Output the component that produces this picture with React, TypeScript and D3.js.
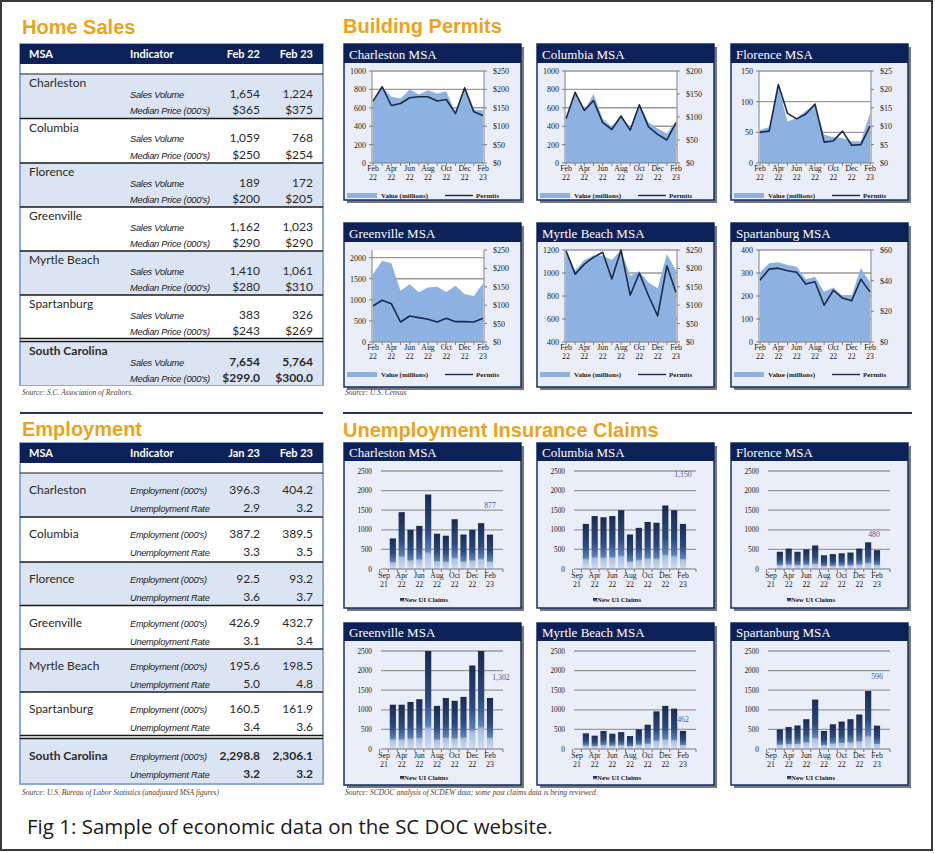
import React from 'react';
import * as d3 from 'd3';

// ---------------- DATA ----------------
const msaNames = ['Charleston', 'Columbia', 'Florence', 'Greenville', 'Myrtle Beach', 'Spartanburg', 'South Carolina'];
const salesVolFeb22 = [1654, 1059, 189, 1162, 1410, 383, 7654];
const salesVolFeb23 = [1224, 768, 172, 1023, 1061, 326, 5764];
const medianFeb22 = [365, 250, 200, 290, 280, 243, 299.0];
const medianFeb23 = [375, 254, 205, 290, 310, 269, 300.0];

const empJan23 = [396.3, 387.2, 92.5, 426.9, 195.6, 160.5, 2298.8];
const empFeb23 = [404.2, 389.5, 93.2, 432.7, 198.5, 161.9, 2306.1];
const rateJan23 = [2.9, 3.3, 3.6, 3.1, 5.0, 3.4, 3.2];
const rateFeb23 = [3.2, 3.5, 3.7, 3.4, 4.8, 3.6, 3.2];

const permitMonths = ['Feb 22', 'Mar 22', 'Apr 22', 'May 22', 'Jun 22', 'Jul 22', 'Aug 22', 'Sep 22', 'Oct 22', 'Nov 22', 'Dec 22', 'Jan 23', 'Feb 23'];
const permitTickMonths = ['Feb 22', 'Apr 22', 'Jun 22', 'Aug 22', 'Oct 22', 'Dec 22', 'Feb 23'];

const charlestonPermits = [673, 829, 625, 647, 709, 720, 720, 673, 690, 538, 818, 556, 516];
const charlestonValue = [168, 208, 180, 175, 200, 186, 198, 189, 195, 136, 205, 145, 143];
const columbiaPermits = [482, 768, 571, 679, 439, 364, 511, 357, 632, 393, 311, 250, 439];
const columbiaValue = [96, 154, 114, 150, 96, 79, 104, 75, 129, 88, 75, 64, 91];
const florencePermits = [50, 52, 128, 81, 72, 80, 96, 34, 36, 52, 29, 30, 60];
const florenceValue = [9.0, 9.7, 21.0, 11.3, 12.2, 14.2, 15.8, 7.7, 7.0, 6.8, 5.9, 5.9, 13.5];
const greenvillePermits = [854, 988, 909, 474, 617, 577, 538, 474, 561, 482, 482, 474, 561];
const greenvilleValue = [185, 221, 214, 139, 157, 135, 148, 150, 136, 153, 130, 125, 159];
const myrtlePermits = [1194, 990, 1077, 1136, 1180, 947, 1200, 807, 999, 802, 627, 1063, 830];
const myrtleValue = [248, 194, 223, 235, 235, 223, 250, 180, 192, 162, 146, 239, 194];
const spartanburgPermits = [269, 317, 321, 310, 303, 252, 262, 160, 225, 191, 179, 273, 218];
const spartanburgValue = [45.4, 51.3, 52.0, 50.2, 49.0, 41.0, 42.5, 32.7, 35.6, 30.1, 30.1, 48.2, 38.8];

const uiMonths = ['Sep 21', 'Mar 22', 'Apr 22', 'May 22', 'Jun 22', 'Jul 22', 'Aug 22', 'Sep 22', 'Oct 22', 'Nov 22', 'Dec 22', 'Jan 23', 'Feb 23'];
const uiTickMonths = ['Sep 21', 'Apr 22', 'Jun 22', 'Aug 22', 'Oct 22', 'Dec 22', 'Feb 23'];
const uiTicks = [0, 500, 1000, 1500, 2000, 2500];

const charlestonClaims = [null, 780, 1450, 1000, 1100, 1900, 900, 850, 1270, 880, 1000, 1170, 877];
const columbiaClaims = [null, 1150, 1350, 1320, 1350, 1500, 880, 1050, 1200, 1180, 1620, 1500, 1150];
const florenceClaims = [null, 440, 520, 440, 500, 600, 350, 380, 400, 420, 520, 680, 480];
const greenvilleClaims = [null, 1130, 1130, 1200, 1270, 2500, 1100, 1300, 1230, 1330, 2130, 2500, 1302];
const myrtleClaims = [null, 400, 340, 460, 390, 430, 330, 500, 620, 960, 1100, 1030, 462];
const spartanburgClaims = [null, 500, 560, 600, 760, 1260, 460, 630, 700, 760, 880, 1480, 596];
const claimLabelLevels = [1560, 2350, 820, 1750, 685, 1780];
const claimLabelShift = [0, 0, -3, 11, 0, 0];

// ---------------- STYLE ----------------
const NAVY = '#0d2159';
const ORANGE = '#EBA31E';
const ROWBLUE = '#dbe4f3';
const PANELBG = '#eaeef8';
const AREA = '#8db2e2';
const LINE = '#1b2a4a';
const GRID = '#9a9a9a';
const SANS = 'Lato, "Liberation Sans", sans-serif';
const SERIF = '"Liberation Serif", "DejaVu Serif", serif';
const IND = '"Liberation Sans", sans-serif';

const fmtInt = d3.format(',');

// ---------------- TABLES ----------------
function SalesTable() {
  const x0 = 20, x1 = 323;
  const rowTops = [74, 118.5, 163, 207, 251, 295, 342];
  const rowH = [44.5, 44.5, 44, 44, 44, 43, 43];
  return (
    <g>
      <rect x={x0} y={44} width={x1 - x0} height={341} fill="#fff" stroke="#8ea9d8" strokeWidth={2} />
      <rect x={x0} y={44} width={x1 - x0} height={20} fill={NAVY} />
      <g fontFamily={SANS} fontWeight={700} fontSize={11} fill="#fff">
        <text x={29} y={58}>MSA</text>
        <text x={130} y={58}>Indicator</text>
        <text x={260} y={58} textAnchor="end">Feb 22</text>
        <text x={313} y={58} textAnchor="end">Feb 23</text>
      </g>
      {msaNames.map((n, i) => {
        const t = rowTops[i];
        const last = i === msaNames.length - 1;
        const fw = last ? 700 : 400;
        const med = (v: number) => (last ? '$' + d3.format('.1f')(v) : '$' + v);
        return (
          <g key={n}>
            <rect x={x0 + 1} y={t} width={x1 - x0 - 2} height={rowH[i]} fill={i % 2 === 0 ? ROWBLUE : '#fff'} />
            <text x={29} y={t + 13} fontFamily={SANS} fontSize={12} fontWeight={fw} fill="#2a2a2a">{n}</text>
            <text x={130} y={t + 23.5} fontFamily={IND} fontStyle="italic" fontSize={9.3} fill="#222" letterSpacing={-0.25}>Sales Volume</text>
            <text x={130} y={t + 40} fontFamily={IND} fontStyle="italic" fontSize={9.3} fill="#222" letterSpacing={-0.25}>Median Price (000's)</text>
            <g fontFamily={SANS} fontSize={12} fontWeight={fw} fill="#2a2a2a" textAnchor="end">
              <text x={260} y={t + 23.5}>{fmtInt(salesVolFeb22[i])}</text>
              <text x={313} y={t + 23.5}>{fmtInt(salesVolFeb23[i])}</text>
              <text x={260} y={t + 40}>{med(medianFeb22[i])}</text>
              <text x={313} y={t + 40}>{med(medianFeb23[i])}</text>
            </g>
          </g>
        );
      })}
      {[118.5, 163, 207, 251, 295].map((yy) => (
        <line key={yy} x1={x0} x2={x1} y1={yy} y2={yy} stroke="#1a1a1a" strokeWidth={1.4} />
      ))}
      <line x1={x0} x2={x1} y1={74} y2={74} stroke="#1a1a1a" strokeWidth={1.2} />
      <line x1={x0} x2={x1} y1={338.5} y2={338.5} stroke="#1a1a1a" strokeWidth={1.4} />
      <line x1={x0} x2={x1} y1={341.5} y2={341.5} stroke="#1a1a1a" strokeWidth={1.4} />
      <text x={22} y={395} fontFamily={SERIF} fontStyle="italic" fontSize={7.5} fill="#444">Source: S.C. Association of Realtors.</text>
    </g>
  );
}

function EmploymentTable() {
  const x0 = 20, x1 = 323;
  const rowTops = [473, 517, 562, 605.5, 649, 692, 739];
  const rowH = [44, 45, 43.5, 43.5, 43, 43, 44];
  return (
    <g>
      <rect x={x0} y={443} width={x1 - x0} height={341} fill="#fff" stroke="#8ea9d8" strokeWidth={2} />
      <rect x={x0} y={443} width={x1 - x0} height={20} fill={NAVY} />
      <g fontFamily={SANS} fontWeight={700} fontSize={11} fill="#fff">
        <text x={29} y={457}>MSA</text>
        <text x={130} y={457}>Indicator</text>
        <text x={260} y={457} textAnchor="end">Jan 23</text>
        <text x={313} y={457} textAnchor="end">Feb 23</text>
      </g>
      {msaNames.map((n, i) => {
        const t = rowTops[i];
        const last = i === msaNames.length - 1;
        const fw = last ? 700 : 400;
        const f1 = d3.format(',.1f');
        return (
          <g key={n}>
            <rect x={x0 + 1} y={t} width={x1 - x0 - 2} height={rowH[i]} fill={i % 2 === 0 ? ROWBLUE : '#fff'} />
            <text x={29} y={t + 21} fontFamily={SANS} fontSize={12} fontWeight={fw} fill="#2a2a2a">{n}</text>
            <text x={130} y={t + 21} fontFamily={IND} fontStyle="italic" fontSize={9.2} fill="#222" letterSpacing={-0.25}>Employment (000's)</text>
            <text x={130} y={t + 39} fontFamily={IND} fontStyle="italic" fontSize={9.2} fill="#222" letterSpacing={-0.25}>Unemployment Rate</text>
            <g fontFamily={SANS} fontSize={12} fontWeight={fw} fill="#2a2a2a" textAnchor="end">
              <text x={260} y={t + 21}>{f1(empJan23[i])}</text>
              <text x={313} y={t + 21}>{f1(empFeb23[i])}</text>
              <text x={260} y={t + 39}>{d3.format('.1f')(rateJan23[i])}</text>
              <text x={313} y={t + 39}>{d3.format('.1f')(rateFeb23[i])}</text>
            </g>
          </g>
        );
      })}
      {[517, 562, 605.5, 649, 692].map((yy) => (
        <line key={yy} x1={x0} x2={x1} y1={yy} y2={yy} stroke="#1a1a1a" strokeWidth={1.4} />
      ))}
      <line x1={x0} x2={x1} y1={473} y2={473} stroke="#1a1a1a" strokeWidth={1.2} />
      <line x1={x0} x2={x1} y1={735.5} y2={735.5} stroke="#1a1a1a" strokeWidth={1.4} />
      <line x1={x0} x2={x1} y1={738.5} y2={738.5} stroke="#1a1a1a" strokeWidth={1.4} />
      <text x={22} y={795} fontFamily={SERIF} fontStyle="italic" fontSize={7.5} fill="#444">Source: U.S. Bureau of Labor Statistics (unadjusted MSA figures)</text>
    </g>
  );
}

// ---------------- PANELS ----------------
function Panel({ x, y, w, h, title, titleH, children }: any) {
  return (
    <g transform={`translate(${x},${y})`}>
      <rect x={3} y={3} width={w} height={h} fill="#4a4a4a" opacity={0.75} />
      <rect x={0} y={0} width={w} height={h} fill={PANELBG} stroke="#12306a" strokeWidth={1.5} />
      <rect x={0} y={0} width={w} height={titleH} fill={NAVY} />
      <text x={5} y={titleH - 4} fontFamily={SERIF} fontSize={13} fill="#fff">{title}</text>
      {children}
    </g>
  );
}

type PermitCfg = {
  title: string;
  permits: number[];
  value: number[];
  left: [number, number];
  leftTicks: number[];
  right: [number, number];
  rightTicks: number[];
};

const permitCharts: PermitCfg[] = [
  { title: 'Charleston MSA', permits: charlestonPermits, value: charlestonValue, left: [0, 1000], leftTicks: [0, 200, 400, 600, 800, 1000], right: [0, 250], rightTicks: [0, 50, 100, 150, 200, 250] },
  { title: 'Columbia MSA', permits: columbiaPermits, value: columbiaValue, left: [0, 1000], leftTicks: [0, 200, 400, 600, 800, 1000], right: [0, 200], rightTicks: [0, 50, 100, 150, 200] },
  { title: 'Florence MSA', permits: florencePermits, value: florenceValue, left: [0, 150], leftTicks: [0, 50, 100, 150], right: [0, 25], rightTicks: [0, 5, 10, 15, 20, 25] },
  { title: 'Greenville MSA', permits: greenvillePermits, value: greenvilleValue, left: [0, 2180], leftTicks: [0, 500, 1000, 1500, 2000], right: [0, 250], rightTicks: [0, 50, 100, 150, 200, 250] },
  { title: 'Myrtle Beach MSA', permits: myrtlePermits, value: myrtleValue, left: [400, 1200], leftTicks: [400, 600, 800, 1000, 1200], right: [0, 250], rightTicks: [0, 50, 100, 150, 200, 250] },
  { title: 'Spartanburg MSA', permits: spartanburgPermits, value: spartanburgValue, left: [0, 400], leftTicks: [0, 100, 200, 300, 400], right: [0, 60], rightTicks: [0, 20, 40, 60] },
];

function PermitChart({ cfg, x, y, h }: { cfg: PermitCfg; x: number; y: number; h: number }) {
  const w = 177;
  const pl = 28, pr = 140, pt = 27, pb = 119;
  const xs = d3.scalePoint<string>().domain(permitMonths).range([pl + 1, pr - 1]);
  const yl = d3.scaleLinear().domain(cfg.left).range([pb, pt]);
  const yr = d3.scaleLinear().domain(cfg.right).range([pb, pt]);
  const area = d3.area<number>().x((_, i) => xs(permitMonths[i]) as number).y0(pb).y1((d) => yr(Math.min(d, cfg.right[1])));
  const line = d3.line<number>().x((_, i) => xs(permitMonths[i]) as number).y((d) => yl(Math.min(d, cfg.left[1])));
  const rfmt = (v: number) => '$' + v;
  return (
    <Panel x={x} y={y} w={w} h={h} title={cfg.title} titleH={19}>
      <rect x={pl} y={pt} width={pr - pl} height={pb - pt} fill="#fff" />
      {cfg.leftTicks.filter((t) => t > cfg.left[0]).map((t) => (
        <line key={t} x1={pl} x2={pr} y1={yl(t)} y2={yl(t)} stroke={GRID} strokeWidth={1.4} />
      ))}
      <path d={area(cfg.value) || ''} fill={AREA} />
      <path d={line(cfg.permits) || ''} fill="none" stroke={LINE} strokeWidth={1.6} strokeLinejoin="round" />
      <line x1={pl} x2={pl} y1={pt} y2={pb} stroke="#808080" strokeWidth={1} />
      <line x1={pr} x2={pr} y1={pt} y2={pb} stroke="#808080" strokeWidth={1} />
      <line x1={pl} x2={pr} y1={pb} y2={pb} stroke="#808080" strokeWidth={1} />
      {cfg.leftTicks.map((t) => (
        <g key={t}>
          <line x1={pl - 3} x2={pl} y1={yl(t)} y2={yl(t)} stroke="#808080" />
          <text x={pl - 6} y={yl(t) + 3} textAnchor="end" fontFamily={SERIF} fontSize={8} fill="#222">{t}</text>
        </g>
      ))}
      {cfg.rightTicks.map((t) => (
        <g key={t}>
          <line x1={pr} x2={pr + 3} y1={yr(t)} y2={yr(t)} stroke="#808080" />
          <text x={pr + 9} y={yr(t) + 3} fontFamily={SERIF} fontSize={8} fill="#222">{rfmt(t)}</text>
        </g>
      ))}
      {permitMonths.map((m) => (
        <line key={m} x1={xs(m)} x2={xs(m)} y1={pb} y2={pb + 3} stroke="#808080" />
      ))}
      {permitTickMonths.map((m) => {
        const [mo, yrs] = m.split(' ');
        return (
          <g key={m} fontFamily={SERIF} fontSize={7.8} fill="#222" textAnchor="middle">
            <text x={xs(m)} y={pb + 8}>{mo}</text>
            <text x={xs(m)} y={pb + 17}>{yrs}</text>
          </g>
        );
      })}
      <rect x={3} y={149} width={30} height={5} fill={AREA} />
      <text x={37} y={154} fontFamily={SERIF} fontWeight={700} fontSize={7} fill="#222">Value (millions)</text>
      <line x1={101} x2={129} y1={151.5} y2={151.5} stroke={LINE} strokeWidth={1.4} />
      <text x={132} y={154} fontFamily={SERIF} fontWeight={700} fontSize={7} fill="#222">Permits</text>
    </Panel>
  );
}

type ClaimCfg = { title: string; claims: (number | null)[] };
const claimCharts: ClaimCfg[] = [
  { title: 'Charleston MSA', claims: charlestonClaims },
  { title: 'Columbia MSA', claims: columbiaClaims },
  { title: 'Florence MSA', claims: florenceClaims },
  { title: 'Greenville MSA', claims: greenvilleClaims },
  { title: 'Myrtle Beach MSA', claims: myrtleClaims },
  { title: 'Spartanburg MSA', claims: spartanburgClaims },
];

function ClaimChart({ cfg, labelLevel, labelShift, x, y, h, legendY }: { cfg: ClaimCfg; labelLevel: number; labelShift: number; x: number; y: number; h: number; legendY: number }) {
  const w = 177;
  const gl = 37, gr = 159, pt = 28, pb = 126;
  const xs = d3.scaleBand<string>().domain(uiMonths).range([35.6, 150.4]).paddingInner(0.3).paddingOuter(0.15);
  const ys = d3.scaleLinear().domain([0, 2500]).range([pb, pt]).clamp(true);
  const last = cfg.claims[cfg.claims.length - 1] as number;
  const lastX = (xs(uiMonths[uiMonths.length - 1]) as number) + xs.bandwidth() / 2;
  return (
    <Panel x={x} y={y} w={w} h={h} title={cfg.title} titleH={18}>
      {uiTicks.map((t) => (
        <g key={t}>
          {t > 0 && <line x1={gl} x2={gr} y1={ys(t)} y2={ys(t)} stroke={GRID} strokeWidth={1.3} />}
          <text x={28} y={ys(t) + 2.5} textAnchor="end" fontFamily={SERIF} fontSize={7.3} fill="#222">{t}</text>
        </g>
      ))}
      {cfg.claims.map((v, i) =>
        v == null ? null : (
          <rect key={i} x={xs(uiMonths[i])} y={ys(v)} width={xs.bandwidth()} height={pb - ys(v)} fill="url(#barGrad)" />
        )
      )}
      <line x1={gl} x2={gr} y1={pb} y2={pb} stroke="#777" strokeWidth={1} />
      {uiMonths.map((m) => (
        <line key={m} x1={(xs(m) as number) - xs.step() * 0.15} x2={(xs(m) as number) - xs.step() * 0.15} y1={pb} y2={pb + 3} stroke="#777" />
      ))}
      <line x1={gr} x2={gr} y1={pb} y2={pb + 3} stroke="#777" />
      {uiTickMonths.map((m) => {
        const [mo, yrs] = m.split(' ');
        const cx = (xs(m) as number) + xs.bandwidth() / 2;
        return (
          <g key={m} fontFamily={SERIF} fontSize={7.8} fill="#222" textAnchor="middle">
            <text x={cx} y={pb + 9}>{mo}</text>
            <text x={cx} y={pb + 18}>{yrs}</text>
          </g>
        );
      })}
      <text x={lastX + labelShift} y={ys(labelLevel)} textAnchor="middle" fontFamily={SERIF} fontSize={7.8} fill="#3d63a6">{fmtInt(last)}</text>
      <rect x={56} y={legendY - 4} width={4} height={4} fill="url(#barGrad)" />
      <text x={60} y={legendY} fontFamily={SERIF} fontWeight={700} fontSize={6.8} fill="#222">New UI Claims</text>
    </Panel>
  );
}

// ---------------- APP ----------------
export default function App() {
  const colX = [344, 537, 731];
  return (
    <div style={{ position: 'absolute', left: 0, top: 0 }}>
      <svg width={935} height={853} viewBox="0 0 935 853" style={{ display: 'block' }}>
        <defs>
          <linearGradient id="barGrad" x1="0" y1="0" x2="0" y2="1">
            <stop offset="0" stopColor="#1a2b52" />
            <stop offset="0.5" stopColor="#2c4a7e" />
            <stop offset="0.76" stopColor="#5c80b8" />
            <stop offset="0.8" stopColor="#a7bde0" />
            <stop offset="1" stopColor="#d2def2" />
          </linearGradient>
        </defs>
        <rect x={1} y={1} width={931} height={849} fill="#fff" stroke="#3a3a3a" strokeWidth={2} />

        <text x={22} y={34} fontFamily='"Liberation Sans", Arial, sans-serif' fontWeight={700} fontSize={20} fill={ORANGE}>Home Sales</text>
        <text x={343} y={33} fontFamily='"Liberation Sans", Arial, sans-serif' fontWeight={700} fontSize={20} fill={ORANGE}>Building Permits</text>
        <text x={22} y={436} fontFamily='"Liberation Sans", Arial, sans-serif' fontWeight={700} fontSize={20} fill={ORANGE}>Employment</text>
        <text x={343} y={437} fontFamily='"Liberation Sans", Arial, sans-serif' fontWeight={700} fontSize={20} fill={ORANGE}>Unemployment Insurance Claims</text>

        <line x1={20} x2={323} y1={413} y2={413} stroke="#1f3561" strokeWidth={2} />
        <line x1={343} x2={912} y1={413} y2={413} stroke="#1f3561" strokeWidth={2} />

        <SalesTable />
        <EmploymentTable />

        {permitCharts.map((c, i) => (
          <PermitChart key={c.title} cfg={c} x={colX[i % 3]} y={i < 3 ? 44 : 223} h={i < 3 ? 156 : 164} />
        ))}
        <text x={345} y={395} fontFamily={SERIF} fontStyle="italic" fontSize={7.5} fill="#444">Source: U.S. Census</text>

        {claimCharts.map((c, i) => (
          <ClaimChart key={c.title} cfg={c} labelLevel={claimLabelLevels[i]} labelShift={claimLabelShift[i]} x={colX[i % 3]} y={i < 3 ? 443 : 623} h={i < 3 ? 165 : 162} legendY={i < 3 ? 159 : 157} />
        ))}
        <text x={345} y={795} fontFamily={SERIF} fontStyle="italic" fontSize={7.5} fill="#444">Source: SCDOC analysis of SCDEW data; some past claims data is being reviewed.</text>

        <text x={27} y={834} fontFamily='"Open Sans", sans-serif' fontSize={20.5} fill="#1a1a1a">Fig 1: Sample of economic data on the SC DOC website.</text>
      </svg>
    </div>
  );
}
